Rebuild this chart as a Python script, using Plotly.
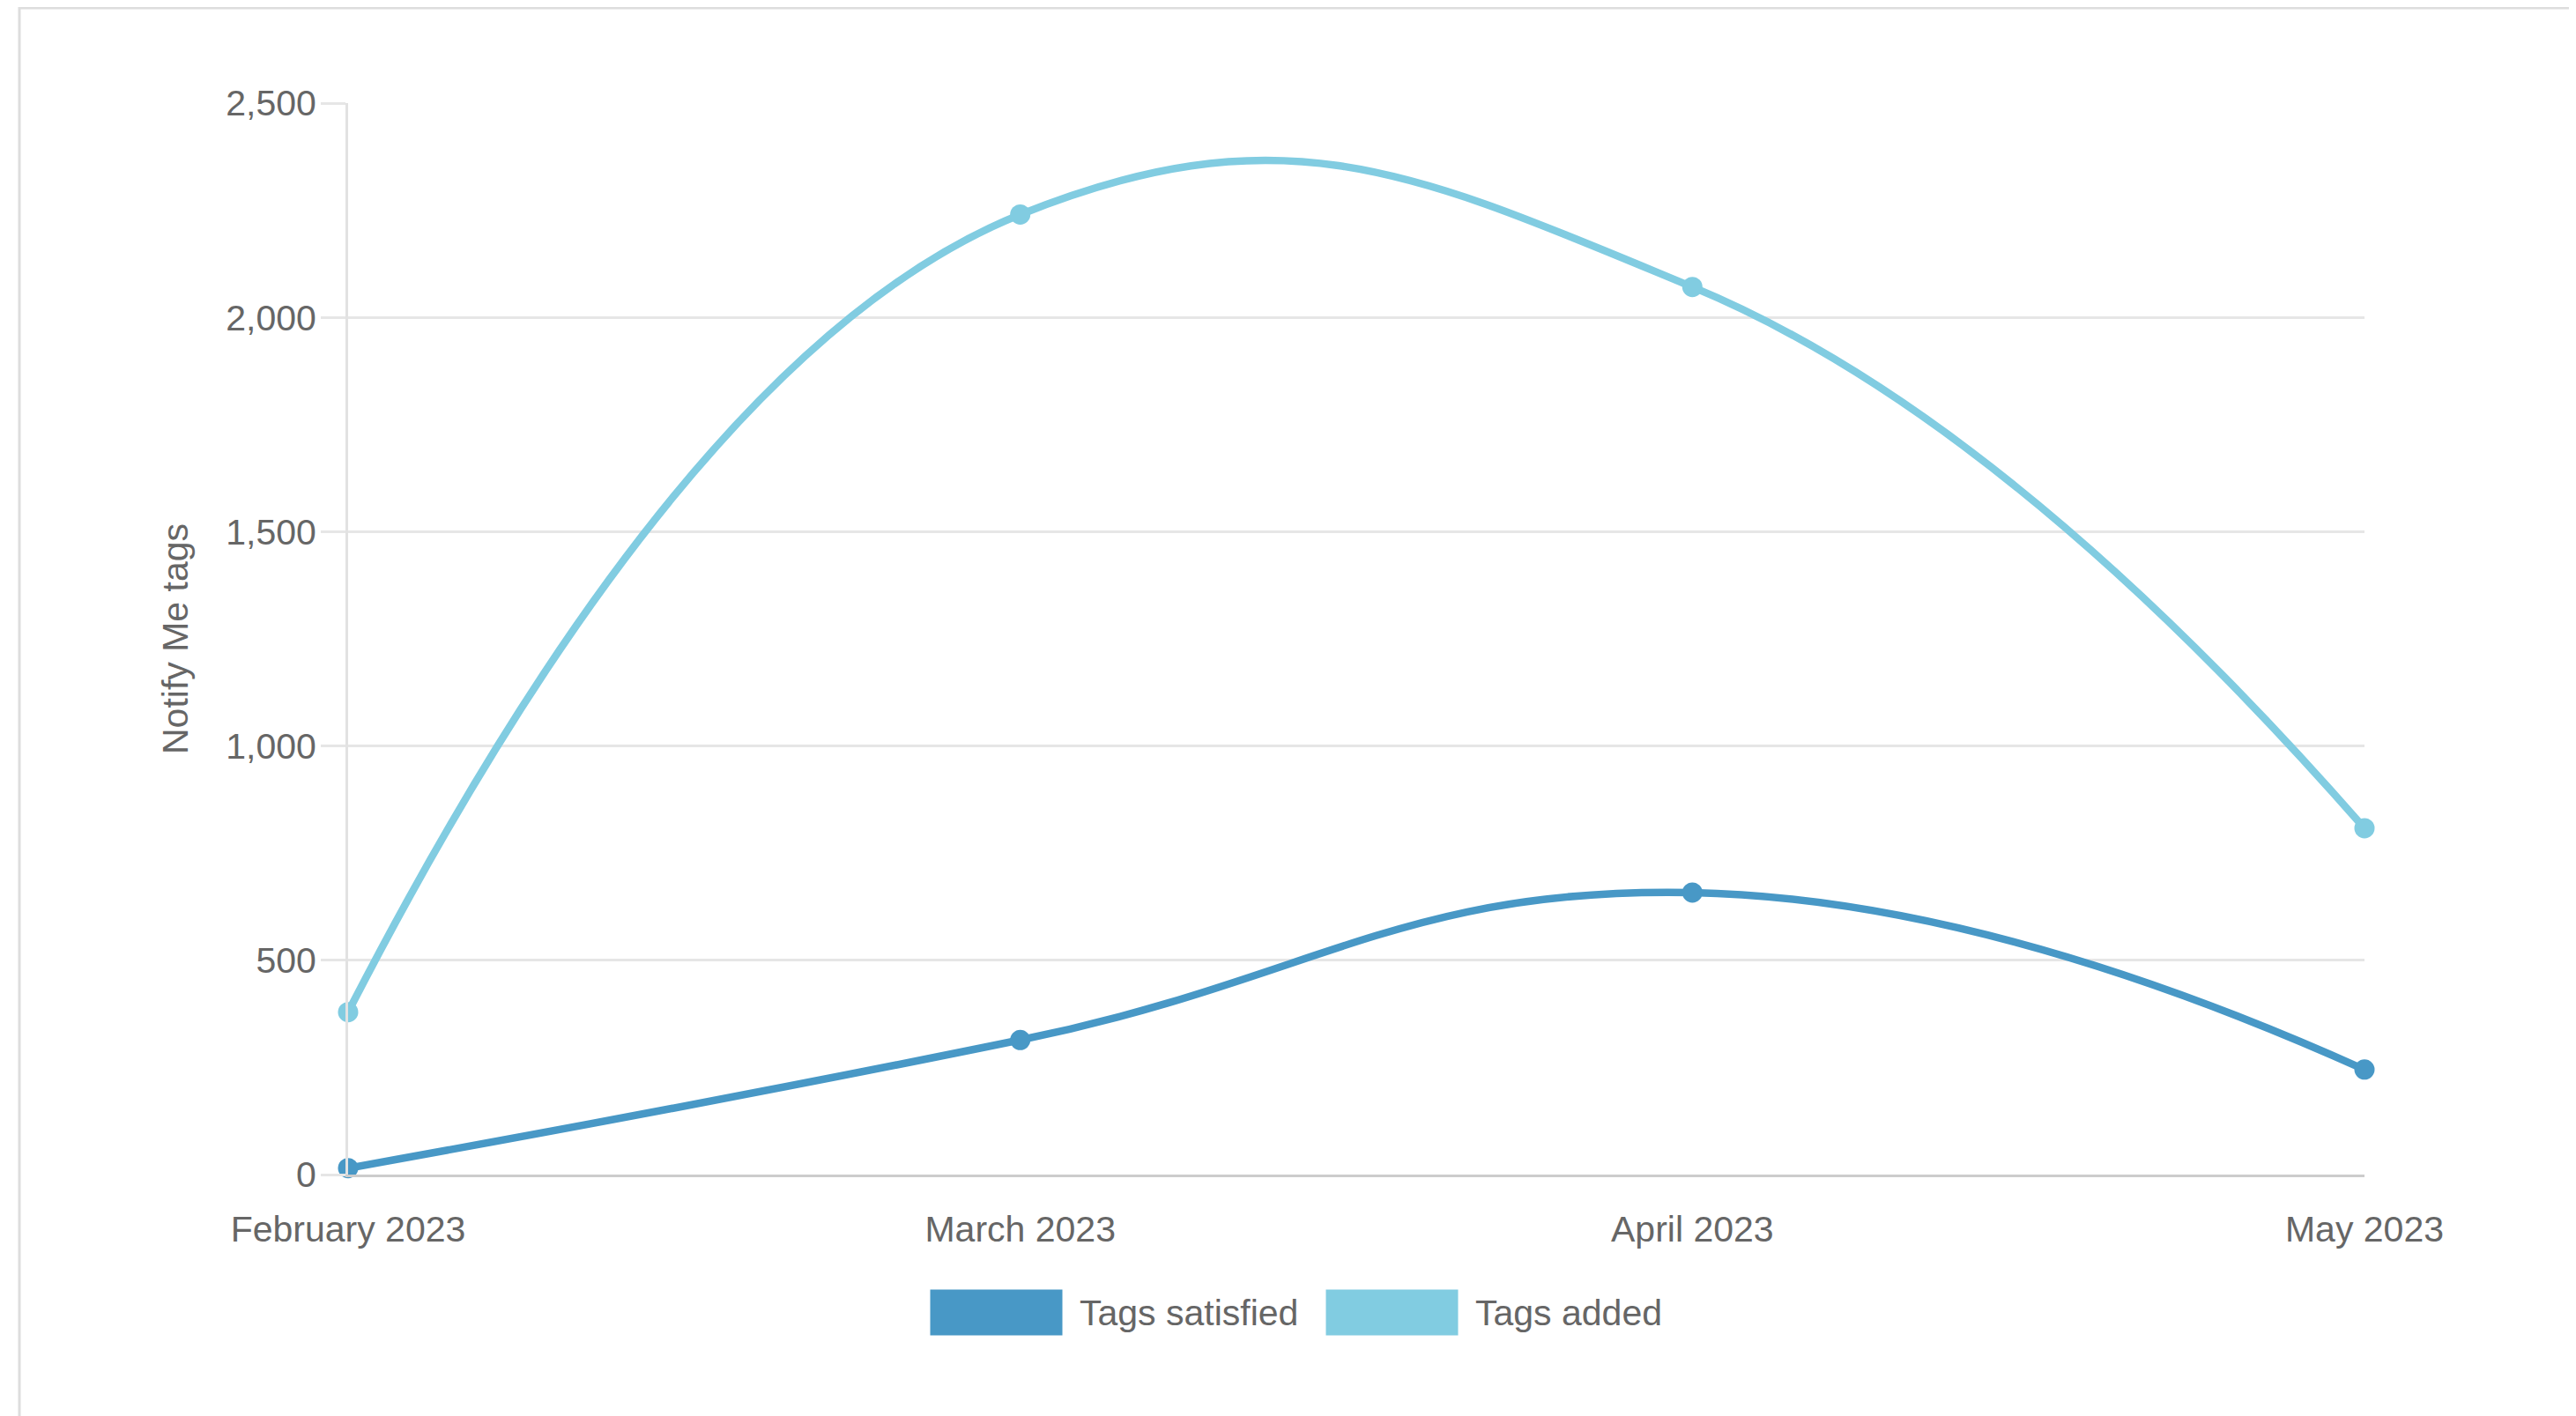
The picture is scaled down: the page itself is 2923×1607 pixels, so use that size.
import plotly.graph_objects as go

# ---- data ----
months = ["February 2023", "March 2023", "April 2023", "May 2023"]
tags_satisfied = [15, 314, 658, 245]
tags_added = [379, 2240, 2071, 808]
series_names = ["Tags satisfied", "Tags added"]
y_ticks = [0, 500, 1000, 1500, 2000, 2500]

# ---- styling ----
C_SAT = "#4898c6"
C_ADD = "#81cce1"
FONT = "Liberation Sans, Arial, sans-serif"
TXT = "#666666"
W, H = 2923, 1607
OFF = 8  # page body margin of the generated html
L = 395 - OFF
T = 117 - OFF
R = W - (2683 - OFF)
B = H - (1333 - OFF)

fig = go.Figure()
for name, vals, col in [(series_names[0], tags_satisfied, C_SAT),
                        (series_names[1], tags_added, C_ADD)]:
    fig.add_trace(go.Scatter(
        x=months, y=vals, name=name, mode="lines+markers",
        line=dict(color=col, width=8.5, shape="spline", smoothing=1.3),
        marker=dict(color=col, size=23),
        cliponaxis=False, showlegend=False,
    ))

pw = W - L - R
ph = H - T - B
def px(x):
    return (x - OFF - L) / pw
def py(y):
    return (H - B - (y - OFF)) / ph

shapes = [
    # card border (top + left)
    dict(type="rect", xref="paper", yref="paper",
         x0=px(22), x1=px(W + 60), y0=py(9), y1=py(H + 60),
         line=dict(color="#dddddd", width=3), fillcolor="rgba(0,0,0,0)", layer="below"),
]
annotations = []
legend_items = [(series_names[0], C_SAT, 1057), (series_names[1], C_ADD, 1506)]
for name, col, x0 in legend_items:
    shapes.append(dict(type="rect", xref="paper", yref="paper",
                       x0=px(x0), x1=px(x0 + 147), y0=py(1465), y1=py(1514),
                       fillcolor=col, line=dict(color=col, width=3), opacity=1.0))
    annotations.append(dict(xref="paper", yref="paper", x=px(x0 + 166), y=py(1490),
                            text=name, showarrow=False, xanchor="left", yanchor="middle",
                            font=dict(family=FONT, size=41, color=TXT)))

fig.update_layout(
    width=W, height=H,
    margin=dict(l=L, r=R, t=T, b=B, autoexpand=False),
    paper_bgcolor="white", plot_bgcolor="white",
    font=dict(family=FONT, size=41, color=TXT),
    shapes=shapes, annotations=annotations,
    showlegend=False,
)
fig.update_xaxes(
    type="category", range=[0, 3], showgrid=False, zeroline=False,
    showline=True, linecolor="#cccccc", linewidth=3,
    ticks="", ticklabelstandoff=24,
    tickfont=dict(family=FONT, size=41, color=TXT),
)
fig.update_yaxes(
    range=[0, 2500], tickvals=y_ticks, tickformat=",d",
    showgrid=True, gridcolor="#e6e6e6", gridwidth=3, zeroline=False,
    showline=True, linecolor="#e2e2e2", linewidth=3,
    ticks="outside", ticklen=28, tickcolor="#e6e6e6", tickwidth=3,
    ticklabelstandoff=-3,
    tickfont=dict(family=FONT, size=41, color=TXT),
    title=dict(text="Notify Me tags", font=dict(family=FONT, size=41, color=TXT), standoff=30),
)

fig.write_html("out.html")
